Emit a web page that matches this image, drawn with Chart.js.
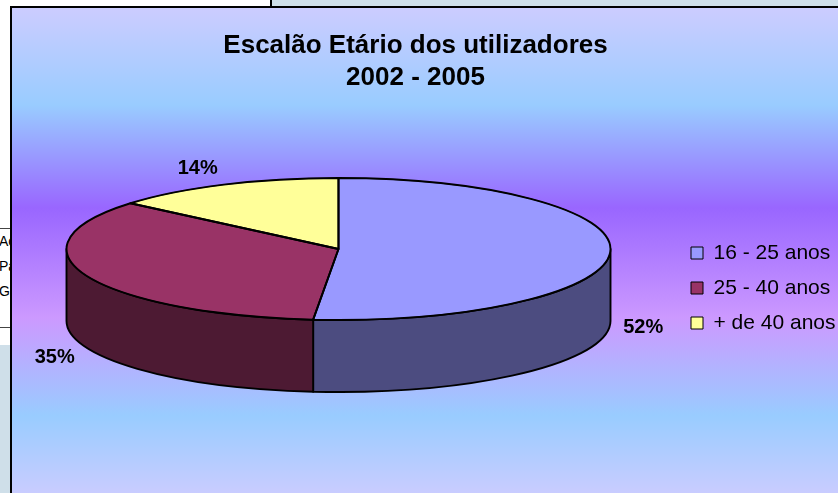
<!DOCTYPE html>
<html>
<head>
<meta charset="utf-8">
<title>Escalão Etário dos utilizadores</title>
<script src="https://cdn.jsdelivr.net/npm/chart.js@4.4.1/dist/chart.umd.min.js"></script>
<style>
  html, body { margin: 0; padding: 0; width: 838px; height: 493px; overflow: hidden; background: #fff;
    font-family: "Liberation Sans", Arial, sans-serif; }
  .abs { position: absolute; }
  #sheetTop { left: 270px; top: 0; width: 600px; height: 6px; background: #cfdfe9; border-left: 2px solid #000; }
  #sheetLeft { left: 0; top: 345px; width: 10px; height: 160px; background: #cfdfe9; }
  #cells { left: 0; top: 228px; width: 10px; height: 98px; border-top: 1px solid #444; border-bottom: 1px solid #444; overflow: hidden; }
  #cells div { position: absolute; left: -1px; font-size: 14px; line-height: 16px; color: #000; white-space: nowrap; }
  #frame { left: 10px; top: 6px; width: 900px; height: 560px; border-left: 2px solid #000; border-top: 2px solid #000;
    background: linear-gradient(to bottom, #ccccff 0px, #99ccff 97px, #9966ff 200px, #cc99ff 310px, #99ccff 408px, #ccccff 490px, #ccccff 560px); }
  #chart { position: absolute; left: 0; top: 0; }
</style>
</head>
<body>
<div id="sheetTop" class="abs"></div>
<div id="cells" class="abs">
  <div style="top:4px">Ac</div>
  <div style="top:29px">Pa</div>
  <div style="top:54px">Gr</div>
</div>
<div id="sheetLeft" class="abs"></div>
<div id="frame" class="abs"></div>
<canvas id="chart" width="838" height="493"></canvas>
<script>
// Age groups of the users and their share (%)
const categories = ['16 - 25 anos', '25 - 40 anos', '+ de 40 anos'];
const shares = [52, 35, 14];
const titleLines = ['Escalão Etário dos utilizadores', '2002 - 2005'];

// Slice colours: top face and darker side wall
const topColors = ['#9999ff', '#993366', '#ffff99'];
const sideColors = ['#4c4c80', '#4d1a33', '#80804c'];

const FONT = '"Liberation Sans", Arial, sans-serif';
const TILT = 0.261;   // vertical squash of the disc
const DEPTH = 72;     // thickness of the disc (px)
const OUTLINE = 1.9;
const LABEL_GAP = 12; // distance of the label anchor from the rim

// Turns the flat pie into a tilted disc: side walls first, then the
// library's own arcs drawn through a squashed transform, then outlines and labels.
const pie3d = {
  id: 'pie3d',
  beforeDatasetsDraw(chart) {
    const ctx = chart.ctx;
    const arcs = chart.getDatasetMeta(0).data;
    this._active = arcs.length > 0;
    if (!this._active) return;
    const { x: cx, y: cy, outerRadius: r } = arcs[0].getProps(['x', 'y', 'outerRadius'], true);
    const top = cy - DEPTH / 2;
    const ry = r * TILT;

    ctx.save();
    ctx.lineJoin = 'round';
    arcs.forEach((arc, i) => {
      const { startAngle, endAngle } = arc.getProps(['startAngle', 'endAngle'], true);
      const a = Math.max(startAngle, 0);
      const b = Math.min(endAngle, Math.PI);
      if (b <= a) return;
      ctx.beginPath();
      ctx.ellipse(cx, top, r, ry, 0, a, b);
      ctx.lineTo(cx + r * Math.cos(b), top + DEPTH + ry * Math.sin(b));
      ctx.ellipse(cx, top + DEPTH, r, ry, 0, b, a, true);
      ctx.closePath();
      ctx.fillStyle = sideColors[i];
      ctx.fill();
      ctx.lineWidth = OUTLINE;
      ctx.strokeStyle = '#000';
      ctx.stroke();
    });
    ctx.restore();

    ctx.save();
    ctx.translate(cx, top);
    ctx.scale(1, TILT);
    ctx.translate(-cx, -cy);
  },
  afterDatasetsDraw(chart) {
    if (!this._active) return;
    const ctx = chart.ctx;
    ctx.restore();
    const arcs = chart.getDatasetMeta(0).data;
    const { x: cx, y: cy, outerRadius: r } = arcs[0].getProps(['x', 'y', 'outerRadius'], true);
    const top = cy - DEPTH / 2;
    const ry = r * TILT;

    ctx.save();
    ctx.lineJoin = 'round';
    ctx.lineWidth = OUTLINE;
    ctx.strokeStyle = '#000';
    arcs.forEach((arc) => {
      const { startAngle, endAngle } = arc.getProps(['startAngle', 'endAngle'], true);
      ctx.beginPath();
      ctx.moveTo(cx, top);
      ctx.lineTo(cx + r * Math.cos(startAngle), top + ry * Math.sin(startAngle));
      ctx.ellipse(cx, top, r, ry, 0, startAngle, endAngle);
      ctx.closePath();
      ctx.stroke();
    });

    // percentage labels placed just outside the rim of each slice
    ctx.fillStyle = '#000';
    ctx.font = 'bold 20px ' + FONT;
    ctx.textAlign = 'center';
    ctx.textBaseline = 'middle';
    arcs.forEach((arc, i) => {
      const { startAngle, endAngle } = arc.getProps(['startAngle', 'endAngle'], true);
      const mid = (startAngle + endAngle) / 2;
      const c = Math.cos(mid), s = Math.sin(mid);
      const text = chart.data.datasets[0].data[i] + '%';
      const halfW = ctx.measureText(text).width / 2 + 1;
      let x = cx + (r + LABEL_GAP) * c + Math.sign(c) * halfW;
      let y = top + 2 + (ry + LABEL_GAP) * s + 8 * s;
      if (s > 0) y += DEPTH;
      ctx.fillText(text, x, y);
    });
    ctx.restore();
  }
};

new Chart(document.getElementById('chart'), {
  type: 'pie',
  data: {
    labels: categories,
    datasets: [{
      data: shares,
      backgroundColor: topColors,
      borderColor: '#000',
      borderWidth: 1,
      radius: 272,
      clip: false
    }]
  },
  options: {
    responsive: false,
    animation: false,
    events: [],
    devicePixelRatio: 1,
    layout: { padding: { left: -5, right: 2, top: 0, bottom: 27 } },
    plugins: {
      title: {
        display: true,
        text: titleLines,
        color: '#000',
        font: { family: FONT, size: 26, weight: 'bold', lineHeight: 32 / 26 },
        padding: { top: 30, bottom: 10 }
      },
      legend: {
        position: 'right',
        fullSize: false,
        maxWidth: 159,
        title: { display: true, text: '', font: { size: 6, lineHeight: 1 }, padding: 0 },
        labels: {
          boxWidth: 12,
          boxHeight: 12,
          padding: 14,
          color: '#000',
          font: { family: FONT, size: 21 }
        }
      },
      tooltip: { enabled: false }
    }
  },
  plugins: [pie3d]
});
</script>
</body>
</html>
